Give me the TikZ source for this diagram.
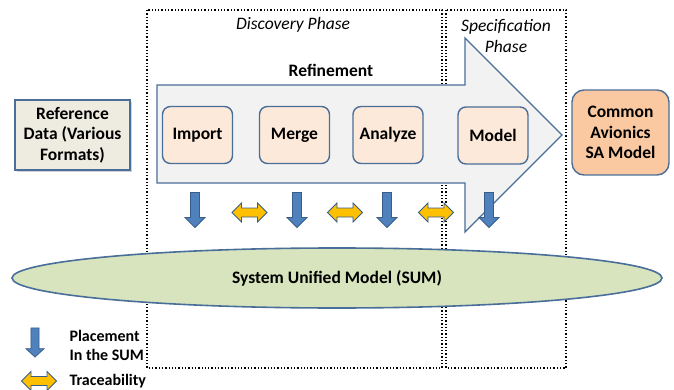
\documentclass[tikz,border=0pt]{standalone}
\usepackage{fontspec}
\setmainfont{Carlito}
\usetikzlibrary{shapes.geometric,shadows}
\definecolor{bord}{HTML}{4A6E9A}
\definecolor{stagefill}{HTML}{FDE9D9}
\definecolor{cafill}{HTML}{FAC9A2}
\definecolor{reffill}{HTML}{EEECE1}
\definecolor{bigfill}{HTML}{F2F2F2}
\definecolor{sumfill}{HTML}{D7E4BD}
\definecolor{arrblue}{HTML}{4F81BD}
\definecolor{arrdark}{HTML}{385D8A}
\definecolor{arryel}{HTML}{FFC000}
\tikzset{
  phasebox/.style={draw=black, line width=1.3pt, dotted},
  stage/.style={draw=bord, fill=stagefill, line width=1.4pt, rounded corners=8pt,
    minimum width=70pt, minimum height=57pt, font=\fontsize{17.5}{20}\selectfont\bfseries},
  lbl/.style={font=\fontsize{17.5}{20.5}\selectfont\bfseries, align=center},
  downarr/.pic={\draw[fill=arrblue,draw=arrdark,line width=0.8pt,line join=miter]
    (-4.5,-17.5) -- (4.5,-17.5) -- (4.5,7.5) -- (10,7.5) -- (0,17.5) -- (-10,7.5) -- (-4.5,7.5) -- cycle;},
  dblarr/.pic={\draw[fill=arryel,draw=arrdark,line width=0.8pt]
    (-17.5,0) -- (-8,-9.5) -- (-8,-4.5) -- (8,-4.5) -- (8,-9.5) -- (17.5,0) -- (8,9.5) -- (8,4.5) -- (-8,4.5) -- (-8,9.5) -- cycle;}
}
\begin{document}
\begin{tikzpicture}[x=1pt,y=-1pt]
\useasboundingbox (0,0) rectangle (674,390);
% phase boxes
\draw[phasebox] (147,10) rectangle (442,368);
\draw[phasebox] (446,10) rectangle (566,368);
\node[font=\fontsize{17.5}{20}\selectfont\itshape] (disc) at (293,25) {Discovery Phase};
\node[font=\fontsize{17.5}{21}\selectfont\itshape, align=center] (spec) at (506,36) {Specification\\Phase};
% big arrow
\draw[draw=bord, fill=bigfill, line width=1.4pt]
  (157,85) -- (465,85) -- (465,38) -- (562,135) -- (465,232) -- (465,183) -- (157,183) -- cycle;
\node[lbl] (refine) at (331,70) {Refinement};
% stages
\node[stage] (import) at (197.5,135) {Import};
\node[stage] (merge) at (294.5,135) {Merge};
\node[stage] (analyze) at (388,135) {Analyze};
\node[stage] (model) at (493,135.5) {Model};
% reference data
\node[draw=bord, fill=reffill, line width=1.4pt, minimum width=115pt, minimum height=70pt,
  drop shadow={shadow xshift=2pt, shadow yshift=-2pt, fill=black!35},
  lbl] (ref) at (72.5,135) {Reference\\Data (Various\\Formats)};
% common avionics
\node[draw=bord, fill=cafill, line width=1.4pt, rounded corners=12pt, minimum width=97pt,
  minimum height=85pt, lbl] (ca) at (620.5,132.5) {Common\\Avionics\\SA Model};
% SUM ellipse
\node[ellipse, draw=bord, fill=sumfill, line width=1.6pt, minimum width=650pt,
  minimum height=60pt, lbl] (sum) at (337,278) {System Unified Model (SUM)};
% placement / traceability arrows
\pic at (195,210) {downarr};
\pic at (297,210) {downarr};
\pic at (387,210) {downarr};
\pic at (489,210) {downarr};
\pic at (249.5,212.5) {dblarr};
\pic at (345,212.5) {dblarr};
\pic at (436,212.5) {dblarr};
% legend
\pic[xscale=0.9, yscale=0.83] at (35,342.5) {downarr};
\pic at (39,381) {dblarr};
\node[font=\fontsize{16}{19}\selectfont\bfseries, align=left, anchor=west] (place) at (66,345) {Placement\\In the SUM};
\node[font=\fontsize{16}{19}\selectfont\bfseries, anchor=west] (trace) at (66,381) {Traceability};
\end{tikzpicture}
\end{document}
